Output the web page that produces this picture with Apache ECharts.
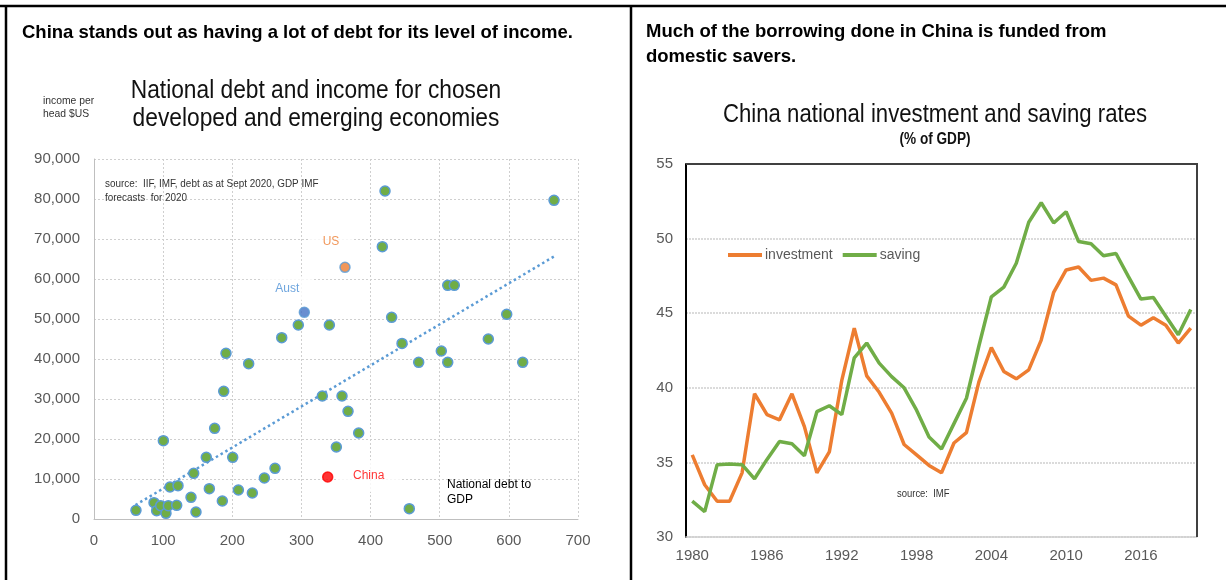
<!DOCTYPE html>
<html><head><meta charset="utf-8">
<script src="https://cdn.jsdelivr.net/npm/echarts@6/dist/echarts.min.js"></script>
<style>html,body{margin:0;padding:0;background:#fff}#c{width:1226px;height:580px}</style>
</head><body><div id="c"></div>
<script>
// ---- Left chart: national debt to GDP (%) vs income per head ($US)
const debtToGdp = [60.7, 86.8, 90.6, 96.4, 104.1, 107.5, 119.6, 109.9, 121.5, 100.3, 140.3, 147.5, 144.2, 166.8, 162.4, 174.5, 185.6, 187.6, 200.6, 208.8, 229, 190.9, 223.7, 246.4, 261.8, 271.5, 295.5, 340.4, 330.2, 358.7, 367.4, 382.8, 350.5, 420.9, 417, 430.5, 445.5, 456, 469.6, 502.3, 511.6, 511.6, 521.1, 570.3, 596.9, 620, 665.3];
const incomePerHead = [2170, 4080, 2080, 3330, 1420, 3330, 3420, 8000, 8330, 19580, 5420, 1750, 11420, 7580, 15420, 22670, 4500, 31920, 15420, 7250, 6500, 41420, 38830, 10250, 12670, 45330, 48500, 48500, 30750, 30750, 26920, 21500, 18000, 82000, 68080, 50420, 43900, 2580, 39170, 42000, 39170, 58420, 58420, 45000, 51170, 39170, 79670];
const highlightNames = ['Aust', 'US', 'China'];
const highlightDebt = [304.2, 363, 338];
const highlightIncome = [51670, 62920, 10500];
const trendDebt = [60, 665];
const trendIncome = [3500, 65600];

// ---- Right chart: China national investment and saving rates (% of GDP)
const years = ['1980','1981','1982','1983','1984','1985','1986','1987','1988','1989','1990','1991','1992','1993','1994','1995','1996','1997','1998','1999','2000','2001','2002','2003','2004','2005','2006','2007','2008','2009','2010','2011','2012','2013','2014','2015','2016','2017','2018','2019','2020'];
const investment = [35.5, 33.5, 32.4, 32.4, 34.3, 39.6, 38.2, 37.85, 39.6, 37.4, 34.3, 35.7, 40.5, 44.0, 40.8, 39.7, 38.3, 36.2, 35.5, 34.8, 34.3, 36.3, 37.0, 40.4, 42.7, 41.1, 40.6, 41.2, 43.2, 46.4, 47.9, 48.1, 47.2, 47.35, 46.9, 44.8, 44.2, 44.7, 44.2, 43.0, 44.0];
const saving = [32.4, 31.7, 34.85, 34.9, 34.85, 33.9, 35.2, 36.4, 36.25, 35.45, 38.4, 38.8, 38.2, 42.0, 43.0, 41.65, 40.75, 40.0, 38.5, 36.7, 35.9, 37.6, 39.3, 42.8, 46.1, 46.75, 48.35, 51.1, 52.4, 51.05, 51.8, 49.8, 49.65, 48.85, 49.0, 47.45, 45.95, 46.05, 44.8, 43.55, 45.25];

const SANS = "'Liberation Sans',Arial,sans-serif";
const GREEN = '#70ad47', ORANGE = '#ed7d31', BLUE = '#5b9bd5', AXISGRAY = '#595959';

const chart = echarts.init(document.getElementById('c'), null, {renderer: 'canvas'});

const labelCfg = {
  Aust: {color: '#4a8fd6', offset: [-17, -24], padding: [6, 14]},
  US: {color: ORANGE, offset: [-14, -26], padding: [5, 14]},
  China: {color: '#ff0000', offset: [41, -1], padding: [10, 16]}
};
const pointColor = {Aust: '#4472c4', US: ORANGE, China: '#ff0000'};

const highlightData = highlightNames.map((n, i) => ({
  name: n,
  value: [highlightDebt[i], highlightIncome[i]],
  itemStyle: {color: pointColor[n], borderColor: n === 'China' ? '#ff0000' : BLUE, borderWidth: 1.5},
  label: {
    show: true, formatter: n, position: 'inside', offset: labelCfg[n].offset,
    color: labelCfg[n].color, fontFamily: SANS, fontSize: 12,
    backgroundColor: '#fff', padding: labelCfg[n].padding
  }
}));

// text helper; sx = horizontal squeeze to imitate the narrow face of the original
function txt(x, y, text, font, fill, align, sx) {
  return {type: 'text', x: x, y: y, scaleX: sx || 1, silent: true, z: 10,
    style: {text: text, font: font, fill: fill,
      textAlign: align || 'left', textVerticalAlign: 'middle', align: align || 'left', verticalAlign: 'middle'}};
}
function ln(x1, y1, x2, y2, w, c) {
  return {type: 'line', silent: true, z: 10, shape: {x1: x1, y1: y1, x2: x2, y2: y2}, style: {stroke: c, lineWidth: w}};
}

const option = {
  animation: false,
  backgroundColor: '#fff',
  grid: [
    {left: 94, top: 159, width: 484, height: 360},
    {left: 686, top: 164, width: 511, height: 373}
  ],
  xAxis: [
    {type: 'value', gridIndex: 0, min: 0, max: 700, interval: 100,
      axisLine: {show: true, lineStyle: {color: '#bfbfbf', width: 1}}, axisTick: {show: false},
      axisLabel: {color: AXISGRAY, fontFamily: SANS, fontSize: 15, margin: 14},
      splitLine: {show: true, lineStyle: {color: '#cfcfcf', type: [2, 2], width: 1}}},
    {type: 'category', gridIndex: 1, data: years, boundaryGap: true,
      axisLine: {show: true, lineStyle: {color: '#d0d0d0', width: 1.5}}, axisTick: {show: false},
      axisLabel: {color: AXISGRAY, fontFamily: SANS, fontSize: 15, margin: 11, interval: 5},
      splitLine: {show: false}}
  ],
  yAxis: [
    {type: 'value', gridIndex: 0, min: 0, max: 90000, interval: 10000,
      axisLine: {show: true, lineStyle: {color: '#bfbfbf', width: 1}}, axisTick: {show: false},
      axisLabel: {color: AXISGRAY, fontFamily: SANS, fontSize: 15, margin: 14,
        formatter: v => v.toLocaleString('en-US')},
      splitLine: {show: true, lineStyle: {color: '#cfcfcf', type: [2, 2], width: 1}}},
    {type: 'value', gridIndex: 1, min: 30, max: 55, interval: 5,
      axisLine: {show: true, lineStyle: {color: '#000', width: 2}}, axisTick: {show: false},
      axisLabel: {color: AXISGRAY, fontFamily: SANS, fontSize: 15, margin: 13},
      splitLine: {show: true, lineStyle: {color: '#cfcfcf', type: [2, 1], width: 1.5}}}
  ],
  legend: {
    left: 728, top: 248, padding: 0, itemWidth: 34, itemHeight: 4, itemGap: 10, icon: 'rect',
    data: ['investment', 'saving'],
    textStyle: {color: AXISGRAY, fontFamily: SANS, fontSize: 14, padding: [0, 0, 0, -2]}
  },
  series: [
    {type: 'line', name: 'trend', xAxisIndex: 0, yAxisIndex: 0,
      data: trendDebt.map((d, i) => [d, trendIncome[i]]), showSymbol: false, silent: true,
      lineStyle: {color: BLUE, width: 2.5, type: [2.5, 3]}, z: 1},
    {type: 'scatter', name: 'economies', xAxisIndex: 0, yAxisIndex: 0,
      data: debtToGdp.map((d, i) => [d, incomePerHead[i]]), symbolSize: 10,
      itemStyle: {color: GREEN, borderColor: BLUE, borderWidth: 1.5, opacity: 1}, z: 2},
    {type: 'scatter', name: 'highlight', xAxisIndex: 0, yAxisIndex: 0,
      data: highlightData, symbolSize: 10, z: 3},
    {type: 'line', name: 'investment', xAxisIndex: 1, yAxisIndex: 1, data: investment,
      showSymbol: false, color: ORANGE, lineStyle: {color: ORANGE, width: 3.5}, z: 2},
    {type: 'line', name: 'saving', xAxisIndex: 1, yAxisIndex: 1, data: saving,
      showSymbol: false, color: GREEN, lineStyle: {color: GREEN, width: 3.5}, z: 3}
  ],
  graphic: [
    // page frame
    ln(0, 6, 1226, 6, 2.5, '#000'),
    ln(6, 5, 6, 580, 2.5, '#000'),
    ln(631, 5, 631, 580, 2.5, '#000'),
    // right plot box (top and right)
    {type: 'polyline', silent: true, z: 10, shape: {points: [[686, 164], [1197, 164], [1197, 537]]},
      style: {stroke: '#404040', lineWidth: 2, fill: null}},
    // headings
    txt(22, 33, 'China stands out as having a lot of debt for its level of income.', 'bold 18.5px ' + SANS, '#000'),
    txt(646, 32, 'Much of the borrowing done in China is funded from', 'bold 18.5px ' + SANS, '#000'),
    txt(646, 57, 'domestic savers.', 'bold 18.5px ' + SANS, '#000'),
    // left chart titles
    txt(316, 91, 'National debt and income for chosen', '26px ' + SANS, '#111', 'center', 0.875),
    txt(316, 119, 'developed and emerging economies', '26px ' + SANS, '#111', 'center', 0.875),
    txt(43, 101, 'income per', '11.5px ' + SANS, '#333', 'left', 0.9),
    txt(43, 114, 'head $US', '11.5px ' + SANS, '#333', 'left', 0.9),
    txt(105, 184, 'source:  IIF, IMF, debt as at Sept 2020, GDP IMF', '11px ' + SANS, '#333', 'left', 0.9),
    txt(105, 198, 'forecasts  for 2020', '11px ' + SANS, '#333', 'left', 0.9),
    txt(447, 485, 'National debt to', '12px ' + SANS, '#000'),
    txt(447, 500, 'GDP', '12px ' + SANS, '#000'),
    // right chart titles
    txt(935, 115, 'China national investment and saving rates', '26px ' + SANS, '#111', 'center', 0.853),
    txt(935, 140, '(% of GDP)', 'bold 16px ' + SANS, '#111', 'center', 0.85),
    txt(897, 494, 'source:  IMF', '10.5px ' + SANS, '#333', 'left', 0.9)
  ]
};
chart.setOption(option);
</script>
</body></html>
